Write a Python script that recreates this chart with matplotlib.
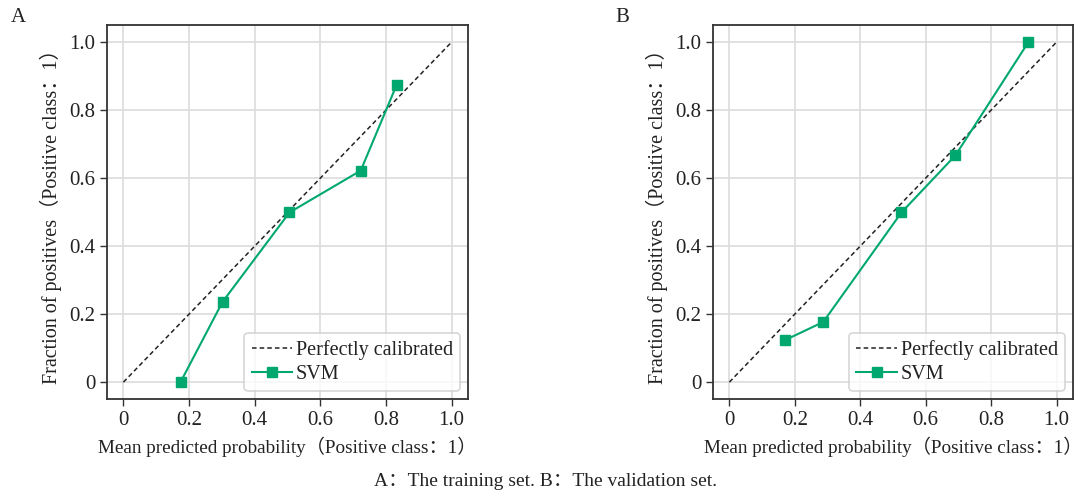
import matplotlib.pyplot as plt

plt.rcParams['font.family'] = ['Liberation Serif', 'Noto Sans CJK SC']

# calibration curves
train_pred = [0.174, 0.302, 0.506, 0.723, 0.832]
train_frac = [0.0, 0.236, 0.499, 0.622, 0.873]
valid_pred = [0.171, 0.287, 0.526, 0.691, 0.914]
valid_frac = [0.124, 0.177, 0.499, 0.667, 1.0]

ticks = [0, 0.2, 0.4, 0.6, 0.8, 1.0]
tick_labels = ['0', '0.2', '0.4', '0.6', '0.8', '1.0']
green = '#00A870'

fig = plt.figure(figsize=(10.86, 4.91), dpi=100)
axA = fig.add_axes([0.0985, 0.187, 0.3325, 0.762])
axB = fig.add_axes([0.6565, 0.187, 0.3315, 0.762])

for ax, px, py in [(axA, train_pred, train_frac), (axB, valid_pred, valid_frac)]:
    ax.grid(True, color='#dcdcdc', linewidth=1.2)
    ax.set_axisbelow(True)
    ax.plot([0, 1], [0, 1], color='#222222', linestyle=(0, (3, 2)), linewidth=1.1, label='Perfectly calibrated')
    ax.plot(px, py, color=green, marker='s', markersize=7, linewidth=1.5, label='SVM')
    ax.set_xlim(-0.05, 1.05)
    ax.set_ylim(-0.05, 1.05)
    ax.set_xticks(ticks)
    ax.set_xticklabels(tick_labels)
    ax.set_yticks(ticks)
    ax.set_yticklabels(tick_labels)
    ax.tick_params(labelsize=15, color='#333333', length=5, width=1, labelcolor='#222222')
    for s in ax.spines.values():
        s.set_color('#333333')
        s.set_linewidth(1.3)
    ax.set_xlabel('Mean predicted probability（Positive class：1）', fontsize=13.8, color='#222222', labelpad=5)
    ax.set_ylabel('Fraction of positives（Positive class：1）', fontsize=14.5, color='#222222', labelpad=5)
    leg = ax.legend(loc='lower right', fontsize=14.5, frameon=True, fancybox=True,
                    handlelength=2.0, handletextpad=0.2, borderpad=0.35, labelspacing=0.25,
                    borderaxespad=0.4)
    leg.get_frame().set_edgecolor('#cccccc')
    leg.get_frame().set_linewidth(1.2)
    for t in leg.get_texts():
        t.set_color('#222222')

fig.text(0.010, 0.955, 'A', fontsize=15, color='#222222')
fig.text(0.567, 0.955, 'B', fontsize=15, color='#222222')
fig.text(0.502, 0.01, 'A：The training set. B：The validation set.', fontsize=14,
         ha='center', color='#222222')

fig.savefig('out.png', dpi=100)
